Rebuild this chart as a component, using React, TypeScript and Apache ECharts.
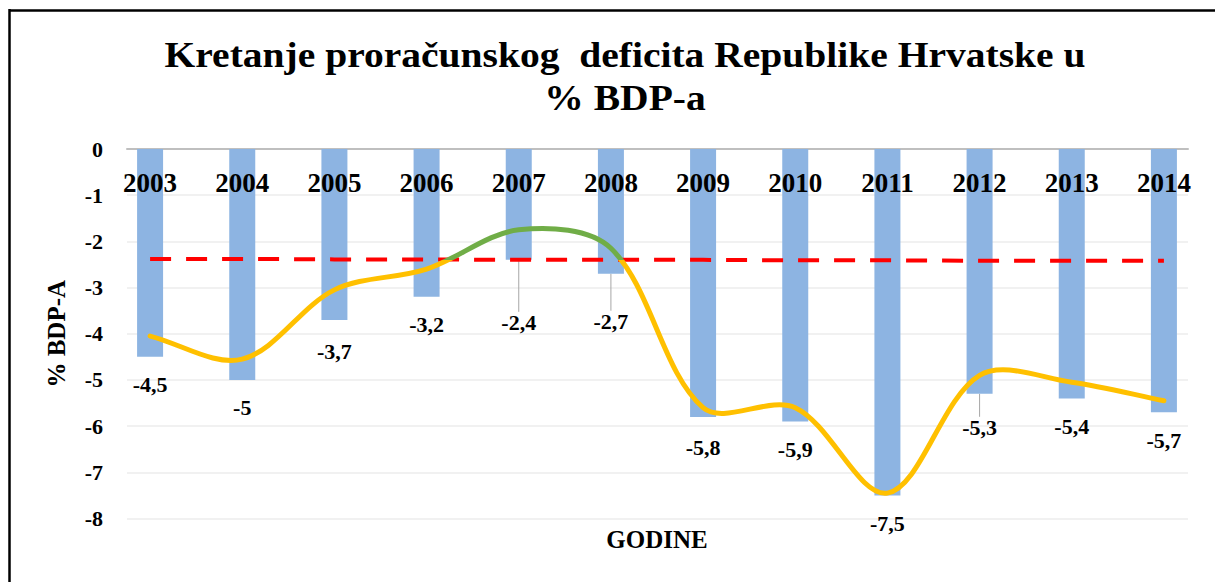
import React, { useEffect, useRef } from "react";
import * as echarts from "echarts";

const years = ["2003", "2004", "2005", "2006", "2007", "2008", "2009", "2010", "2011", "2012", "2013", "2014"];
const deficit = [-4.5, -5, -3.7, -3.2, -2.4, -2.7, -5.8, -5.9, -7.5, -5.3, -5.4, -5.7];
const trendCurve = [-4.05, -4.55, -3.05, -2.6, -1.75, -2.15, -5.6, -5.6, -7.45, -4.9, -5.05, -5.45];
const referenceLine = [-2.38, -2.38, -2.39, -2.39, -2.4, -2.4, -2.4, -2.41, -2.41, -2.42, -2.42, -2.42];
const yTicks = [0, -1, -2, -3, -4, -5, -6, -7, -8];
const threshold = -2.4;

const titleLines = ["Kretanje proračunskog  deficita Republike Hrvatske u", "% BDP-a"];
const yName = "% BDP-A";
const xName = "GODINE";

// label displacement (px) for crowded labels, and which ones get a leader line
const labelDrop: Record<number, number> = { 2: 4, 4: 35, 5: 20, 6: 3, 9: 6 };
const leaderIdx = [4, 5, 9];

const SERIF = "Liberation Serif";

export default function App() {
  const ref = useRef<HTMLDivElement>(null);
  useEffect(() => {
    if (!ref.current) return;
    const chart = echarts.init(ref.current, null, { renderer: "svg" });
    const fmt = (v: number) => String(v).replace(".", ",");

    // Excel-like smoothed line: Catmull-Rom with handles weighted by segment length
    const renderCurve = (params: any, api: any) => {
      if (params.dataIndex !== 0) return null;
      const pts = trendCurve.map((v, i) => api.coord([i, v]));
      const dist = (a: number[], b: number[]) => Math.hypot(b[0] - a[0], b[1] - a[1]);
      const s = 1 / 3;
      const handles = pts.map((p, i) => {
        const p0 = pts[i - 1] || p;
        const p2 = pts[i + 1] || p;
        const vx = p2[0] - p0[0];
        const vy = p2[1] - p0[1];
        const d0 = dist(p0, p);
        const d1 = dist(p, p2);
        const tot = d0 + d1 || 1;
        return {
          inX: p[0] - vx * s * (d0 / tot),
          inY: p[1] - vy * s * (d0 / tot),
          outX: p[0] + vx * s * (d1 / tot),
          outY: p[1] + vy * s * (d1 / tot),
        };
      });
      let d = `M${pts[0][0]},${pts[0][1]}`;
      for (let i = 0; i < pts.length - 1; i++) {
        const h1 = handles[i];
        const h2 = handles[i + 1];
        d += ` C${h1.outX},${h1.outY} ${h2.inX},${h2.inY} ${pts[i + 1][0]},${pts[i + 1][1]}`;
      }
      const yThr = api.coord([0, threshold])[1];
      const stroke = new echarts.graphic.LinearGradient(
        0,
        yThr - 0.5,
        0,
        yThr + 0.5,
        [
          { offset: 0, color: "#70AD47" },
          { offset: 0.5, color: "#70AD47" },
          { offset: 0.5, color: "#FFC000" },
          { offset: 1, color: "#FFC000" },
        ],
        true
      );
      return {
        type: "path",
        shape: { pathData: d },
        style: { fill: "none", stroke, lineWidth: 5, lineCap: "round", lineJoin: "round" },
      };
    };

    chart.setOption({
      animation: false,
      backgroundColor: "#ffffff",
      grid: [
        { left: 127, right: 27, top: 149, bottom: 63.5 },
        { left: 104, right: 5, top: 149, bottom: 63.5 },
      ],
      xAxis: [
        {
          type: "value",
          gridIndex: 0,
          position: "top",
          min: 0,
          max: 1,
          axisLine: { show: true, lineStyle: { color: "#BFBFBF", width: 2 } },
          axisTick: { show: false },
          axisLabel: { show: false },
          splitLine: { show: false },
        },
        {
          type: "category",
          gridIndex: 1,
          position: "top",
          data: years,
          z: 10,
          axisLine: { show: false },
          axisTick: { show: false },
          axisLabel: {
            inside: true,
            margin: 20,
            fontFamily: SERIF,
            fontWeight: "bold",
            fontSize: 27,
            color: "#000",
          },
        },
      ],
      yAxis: [
        {
          type: "value",
          gridIndex: 0,
          min: -8,
          max: 0,
          interval: 1,
          axisLine: { show: false },
          axisTick: { show: false },
          splitLine: { show: true, lineStyle: { color: "#EDEDED", width: 1.5 } },
          axisLabel: {
            margin: 24,
            fontFamily: SERIF,
            fontWeight: "bold",
            fontSize: 22,
            color: "#000",
            formatter: (v: number) => (yTicks.includes(v) ? String(v) : ""),
          },
          name: yName,
          nameLocation: "middle",
          nameRotate: 90,
          nameGap: 58,
          nameTextStyle: {
            fontFamily: SERIF,
            fontWeight: "bold",
            fontSize: 25,
            color: "#000",
          },
        },
        {
          type: "value",
          gridIndex: 1,
          min: -8,
          max: 0,
          show: false,
        },
      ],
      series: [
        {
          type: "bar",
          xAxisIndex: 1,
          yAxisIndex: 1,
          barWidth: 26,
          itemStyle: { color: "#8DB4E2" },
          data: deficit.map((v, i) => ({
            value: v,
            labelLine: { show: leaderIdx.includes(i) },
          })),
          label: {
            show: true,
            position: "bottom",
            distance: 17,
            fontFamily: SERIF,
            fontWeight: "bold",
            fontSize: 22,
            color: "#000",
            formatter: (p: any) => fmt(p.value),
          },
          labelLine: { show: false, lineStyle: { color: "#A6A6A6", width: 1 } },
          labelLayout: (p: any) => {
            const d = labelDrop[p.dataIndex];
            return d ? { dy: d } : {};
          },
          z: 2,
        },
        {
          type: "line",
          xAxisIndex: 1,
          yAxisIndex: 1,
          data: referenceLine,
          symbol: "none",
          lineStyle: { color: "#FF0000", width: 4, type: [21, 15] },
          z: 3,
        },
        {
          type: "custom",
          xAxisIndex: 1,
          yAxisIndex: 1,
          data: trendCurve.map((v, i) => [i, v]),
          renderItem: renderCurve,
          clip: false,
          z: 4,
        },
      ],
      graphic: [
        {
          type: "text",
          x: 625,
          y: 55,
          scaleX: 1.13,
          style: {
            text: titleLines[0],
            fontFamily: SERIF,
            fontWeight: "bold",
            fontSize: 35,
            fill: "#000",
            textAlign: "center",
            textVerticalAlign: "middle",
          },
        },
        {
          type: "text",
          x: 625,
          y: 98,
          scaleX: 1.13,
          style: {
            text: titleLines[1],
            fontFamily: SERIF,
            fontWeight: "bold",
            fontSize: 35,
            fill: "#000",
            textAlign: "center",
            textVerticalAlign: "middle",
          },
        },
        {
          type: "text",
          x: 657,
          y: 539,
          style: {
            text: xName,
            fontFamily: SERIF,
            fontWeight: "bold",
            fontSize: 25,
            fill: "#000",
            textAlign: "center",
            textVerticalAlign: "middle",
          },
        },
        {
          type: "line",
          shape: { x1: 9, y1: 10.5, x2: 1215, y2: 10.5 },
          style: { stroke: "#000", lineWidth: 2.5 },
        },
        {
          type: "line",
          shape: { x1: 9.5, y1: 9, x2: 9.5, y2: 582 },
          style: { stroke: "#000", lineWidth: 2.5 },
        },
      ],
    });
    return () => chart.dispose();
  }, []);
  return (
    <div
      ref={ref}
      style={{ position: "fixed", left: 0, top: 0, width: 1215, height: 582 }}
    />
  );
}
